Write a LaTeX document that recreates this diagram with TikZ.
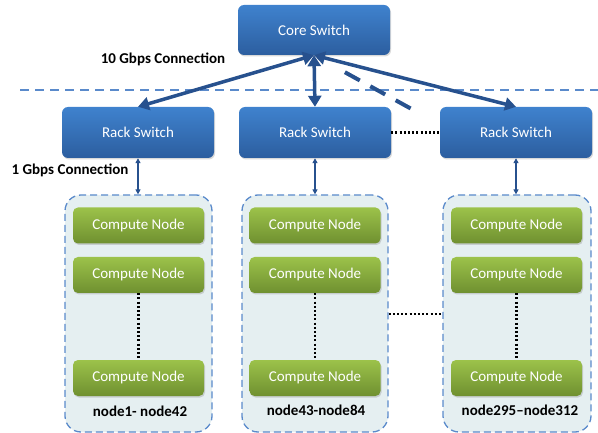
\documentclass[tikz,border=0pt]{standalone}
\usepackage{fontspec}
\setmainfont{Carlito}
\usetikzlibrary{arrows.meta,shadows,calc}
\definecolor{btop}{HTML}{3F82CE}
\definecolor{bbot}{HTML}{2C5E9F}
\definecolor{gtop}{HTML}{9CC24A}
\definecolor{gbot}{HTML}{6F9030}
\definecolor{arr}{HTML}{27518E}
\definecolor{dashc}{HTML}{5A8ACB}
\definecolor{clfill}{HTML}{E5EFF1}
\tikzset{
  bluebox/.style={rounded corners=6pt, top color=btop, bottom color=bbot, draw=none,
    text=white, font=\fontsize{15}{17}\selectfont, minimum width=152pt, minimum height=50pt,
    drop shadow={opacity=0.3, shadow xshift=1pt, shadow yshift=-1.5pt}},
  greenbox/.style={rounded corners=5pt, top color=gtop, bottom color=gbot, draw=none,
    text=white, font=\fontsize{15}{17}\selectfont, minimum width=131pt, minimum height=36pt,
    drop shadow={opacity=0.3, shadow xshift=1pt, shadow yshift=-1.5pt}},
  cluster/.style={rounded corners=16pt, draw=dashc, fill=clfill, line width=1.3pt,
    dash pattern=on 7pt off 4pt, minimum height=237pt},
  bigarrow/.style={draw=arr, line width=3.5pt, {Triangle[length=11pt,width=13pt]}-{Triangle[length=11pt,width=13pt]}},
  smallarrow/.style={draw=arr, line width=1.4pt, {Triangle[length=5pt,width=5pt]}-{Triangle[length=5pt,width=5pt]}},
  dotline/.style={line width=2.2pt, dash pattern=on 2pt off 2.2pt, line cap=butt},
  lbl/.style={font=\bfseries\fontsize{15}{17}\selectfont, text=black},
}
\begin{document}
\begin{tikzpicture}[x=1pt,y=-1pt]
\useasboundingbox (0,0) rectangle (598,433);
% clusters
\node[cluster, minimum width=147pt] (cl1) at (138.5,313.5) {};
\node[cluster, minimum width=146pt] (cl2) at (315,313.5) {};
\node[cluster, minimum width=148pt] (cl3) at (517,313.5) {};
% separator dashed line
\coordinate (sepl) at (20,90);
\coordinate (sepr) at (598,90);
\draw[dashc, line width=2.6pt, dash pattern=on 9pt off 6pt] (sepl) -- (sepr);
% switches
\node[bluebox] (core) at (314,30) {Core Switch};
\node[bluebox, minimum height=51pt] (r1) at (138,132.5) {Rack Switch};
\node[bluebox, minimum height=51pt] (r2) at (315,132.5) {Rack Switch};
\node[bluebox, minimum height=51pt] (r3) at (516,132.5) {Rack Switch};
% compute nodes
\foreach \c/\x in {1/138.5,2/315,3/516.5}{
  \node[greenbox] (c\c a) at (\x,225.5) {Compute Node};
  \node[greenbox] (c\c b) at (\x,275) {Compute Node};
  \node[greenbox] (c\c c) at (\x,378) {Compute Node};
}
% labels
\node[lbl] (l10) at (163,59) {10 Gbps Connection};
\node[lbl] (l1) at (70,170) {1 Gbps Connection};
\node[lbl] (n1) at (140,411) {node1- node42};
\node[lbl] (n2) at (316,410) {node43-node84};
\node[lbl] (n3) at (520,410) {node295--node312};
% big arrows
\draw[bigarrow] (core.south) -- (r1.north);
\draw[bigarrow] (core.south) -- (r2.north);
\draw[bigarrow] (core.south) -- (r3.north);
\coordinate (dashend) at (417,112);
\draw[arr, line width=4pt, dash pattern=on 17pt off 12pt] ($(core.south)!0.3!(dashend)$) -- (dashend);
% small arrows
\draw[smallarrow] (r1.south) -- (cl1.north -| r1.south);
\draw[smallarrow] (r2.south) -- (cl2.north -| r2.south);
\draw[smallarrow] (r3.south) -- (cl3.north -| r3.south);
% dotted lines
\draw[dotline] (r2.east) -- (r3.west);
\draw[dotline] (cl2.east |- 0,314) -- (cl3.west |- 0,314);
\draw[dotline] (c1b.south) -- (c1c.north);
\draw[dotline] (c2b.south) -- (c2c.north);
\draw[dotline] (c3b.south) -- (c3c.north);
\end{tikzpicture}
\end{document}
